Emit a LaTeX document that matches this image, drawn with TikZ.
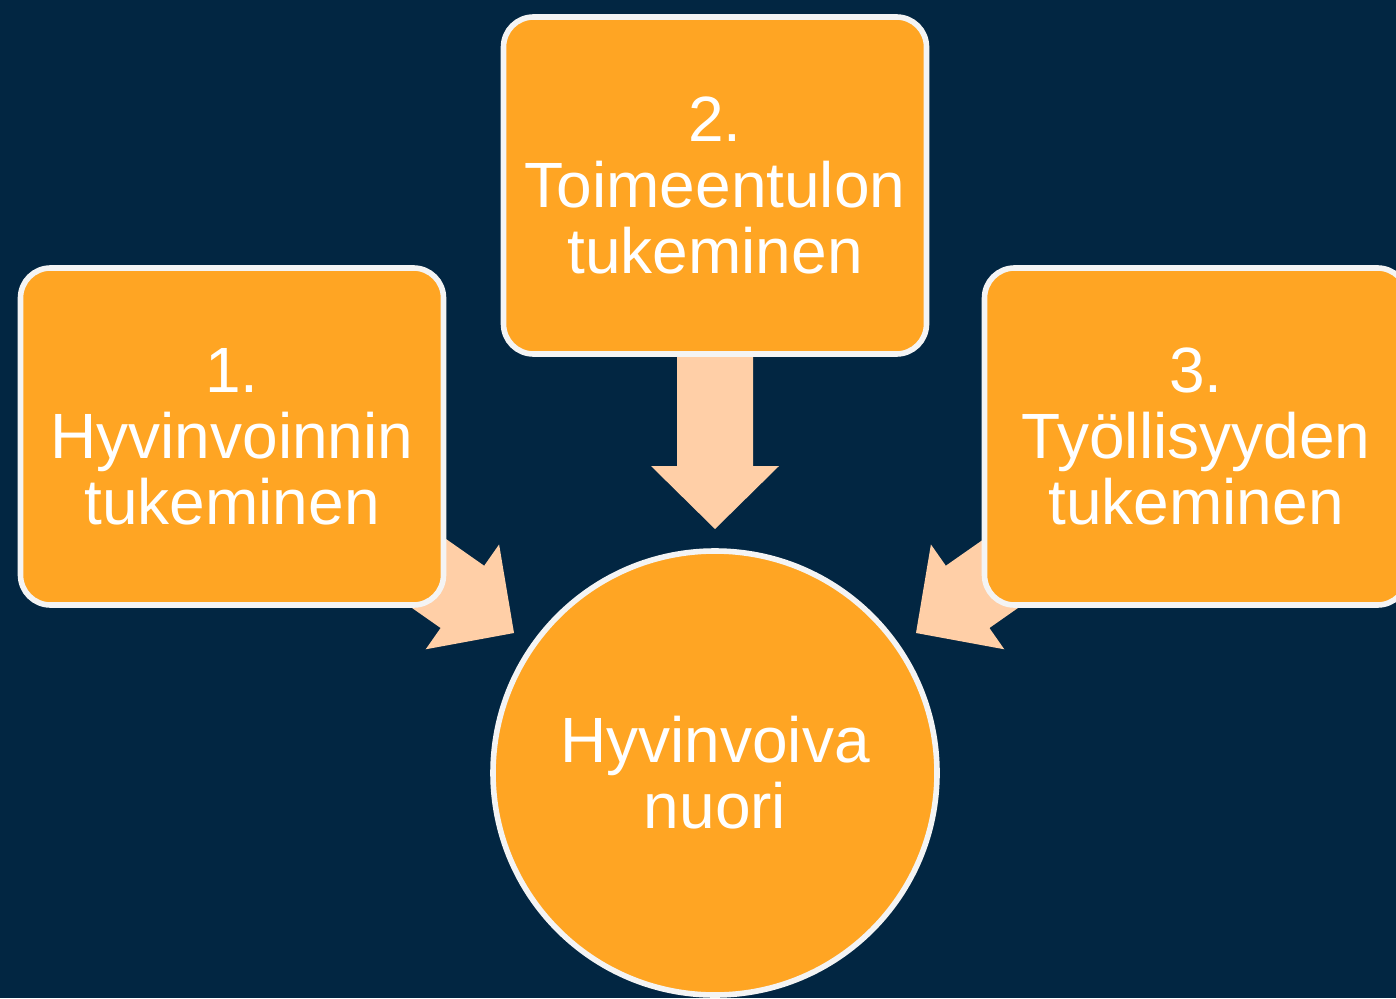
\documentclass[tikz,border=0pt]{standalone}
\usepackage{fontspec}
\setmainfont{Liberation Sans}
\definecolor{navy}{HTML}{022642}
\definecolor{boxorange}{HTML}{FFA523}
\definecolor{peach}{HTML}{FFCFA7}
\definecolor{rim}{HTML}{F4F4F4}
\tikzset{
  stepbox/.style={draw=rim, line width=2.8pt, fill=boxorange, rounded corners=15pt,
    minimum width=211.5pt, minimum height=168.5pt, inner sep=0pt, text=white, align=center,
    font=\fontsize{32}{33}\selectfont},
  goalcircle/.style={draw=rim, line width=2.8pt, fill=boxorange, circle,
    minimum size=222pt, inner sep=0pt, text=white, align=center,
    font=\fontsize{32}{33}\selectfont},
  blockarrow/.style={fill=peach}
}
\newcommand{\blockarrowpath}{(0,0) -- (-63,64) -- (-63,38) -- (-172,38) -- (-172,-38) -- (-63,-38) -- (-63,-64) -- cycle}
\begin{document}
\begin{tikzpicture}[x=0.5pt,y=0.5pt]
\fill[navy] (0,0) rectangle (1396,998);
\useasboundingbox (0,0) rectangle (1396,998);
% arrow tips
\coordinate (tipL) at (514,365);
\coordinate (tipM) at (715,469);
\coordinate (tipR) at (916,365);
% arrows (behind boxes)
\fill[blockarrow, shift={(tipL)}, rotate=-35] \blockarrowpath;
\fill[blockarrow, shift={(tipM)}, rotate=-90] \blockarrowpath;
\fill[blockarrow, shift={(tipR)}, rotate=-145] \blockarrowpath;
% boxes
\node[stepbox] (b1) at (232,561.5) {1.\\Hyvinvoinnin\\tukeminen};
\node[stepbox] (b2) at (715,812.5) {2.\\Toimeentulon\\tukeminen};
\node[stepbox] (b3) at (1196,561.5) {3.\\Työllisyyden\\tukeminen};
% goal
\node[goalcircle] (goal) at (715,225) {Hyvinvoiva\\nuori};
\end{tikzpicture}
\end{document}
